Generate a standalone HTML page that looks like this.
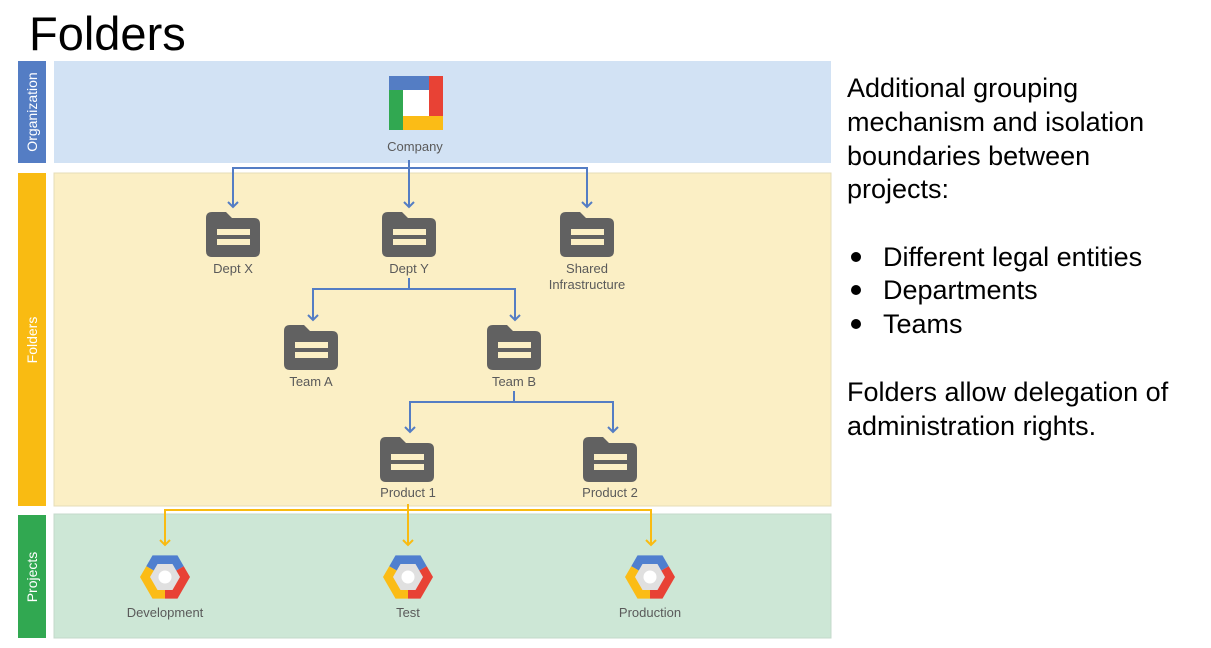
<!DOCTYPE html>
<html><head><meta charset="utf-8"><style>
body{margin:0;background:#fff;width:1211px;height:648px;overflow:hidden}
svg{display:block;font-family:"Liberation Sans",sans-serif}
</style></head><body>
<svg width="1211" height="648" viewBox="0 0 1211 648">
<defs>
<g id="fold">
<path d="M0,6 Q0,0 6,0 H20 L26,6 H48 Q54,6 54,12 V39 Q54,45 48,45 H6 Q0,45 0,39 Z" fill="#616161"/>
<rect x="11" y="17" width="33" height="6" fill="#fbefc5"/>
<rect x="11" y="27" width="33" height="6" fill="#fbefc5"/>
</g>
<g id="hex">
<polygon points="0,0 -18.75,-10.8 -12.5,-21.6 12.5,-21.6 18.75,-10.8" fill="#4f7fcf"/>
<polygon points="0,0 18.75,-10.8 25,0 12.5,21.6 0,21.6" fill="#e84235"/>
<polygon points="0,0 0,21.6 -12.5,21.6 -25,0 -18.75,-10.8" fill="#fbbc16"/>
<polygon points="-15,0 -7.5,-13 7.5,-13 15,0 7.5,13 -7.5,13" fill="#e0e0e0"/>
<circle r="6.5" fill="#fff"/>
</g>
</defs>
<text x="29" y="50" font-size="47" fill="#000">Folders</text>
<rect x="18" y="61" width="28" height="102" fill="#547dc4"/>
<rect x="54" y="61" width="777" height="102" fill="#d2e2f4"/>
<rect x="18" y="173" width="28" height="333" fill="#f9bb12"/>
<rect x="54" y="173" width="777" height="333" fill="#fbefc5" stroke="#e6dcb8"/>
<rect x="18" y="515" width="28" height="123" fill="#31a851"/>
<rect x="54" y="514" width="777" height="124" fill="#cde7d6" stroke="#c4d8cb"/>
<g fill="#fff" font-size="14" text-anchor="middle">
<text transform="translate(37,112) rotate(-90)">Organization</text>
<text transform="translate(37,340) rotate(-90)">Folders</text>
<text transform="translate(37,577) rotate(-90)">Projects</text>
</g>
<rect x="389" y="76" width="54" height="54" fill="#fff"/>
<rect x="389" y="76" width="42" height="14" fill="#547dc4"/>
<rect x="429" y="76" width="14" height="40" fill="#e84235"/>
<rect x="403" y="116" width="40" height="14" fill="#fbbc16"/>
<rect x="389" y="90" width="14" height="40" fill="#31a851"/>
<g fill="none" stroke="#547dc4" stroke-width="2">
<path d="M409,160 V207 M233,207 V168 H587 V207"/>
<path d="M409,278 V289 M313,320 V289 H515 V320"/>
<path d="M514,391 V402 M410,432 V402 H613 V432"/>
<path d="M228,202 L233,207 L238,202 M404,202 L409,207 L414,202 M582,202 L587,207 L592,202"/>
<path d="M308,315 L313,320 L318,315 M510,315 L515,320 L520,315"/>
<path d="M405,427 L410,432 L415,427 M608,427 L613,432 L618,427"/>
</g>
<g fill="none" stroke="#f9bb12" stroke-width="2">
<path d="M408,504 V545 M165,545 V510 H651 V545"/>
<path d="M160,540 L165,545 L170,540 M403,540 L408,545 L413,540 M646,540 L651,545 L656,540"/>
</g>
<use href="#fold" x="206" y="212"/>
<use href="#fold" x="382" y="212"/>
<use href="#fold" x="560" y="212"/>
<use href="#fold" x="284" y="325"/>
<use href="#fold" x="487" y="325"/>
<use href="#fold" x="380" y="437"/>
<use href="#fold" x="583" y="437"/>
<use href="#hex" x="165" y="577"/>
<use href="#hex" x="408" y="577"/>
<use href="#hex" x="650" y="577"/>
<g fill="#5a5a5a" font-size="13" text-anchor="middle">
<text x="415" y="151">Company</text>
<text x="233" y="273">Dept X</text>
<text x="409" y="273">Dept Y</text>
<text x="587" y="273">Shared</text>
<text x="587" y="289">Infrastructure</text>
<text x="311" y="386">Team A</text>
<text x="514" y="386">Team B</text>
<text x="408" y="497">Product 1</text>
<text x="610" y="497">Product 2</text>
<text x="165" y="617">Development</text>
<text x="408" y="617">Test</text>
<text x="650" y="617">Production</text>
</g>
<g fill="#000" font-size="27">
<text x="847" y="97">Additional grouping</text>
<text x="847" y="131">mechanism and isolation</text>
<text x="847" y="165">boundaries between</text>
<text x="847" y="198">projects:</text>
<circle cx="856" cy="257" r="5"/>
<circle cx="856" cy="290" r="5"/>
<circle cx="856" cy="324" r="5"/>
<text x="883" y="266">Different legal entities</text>
<text x="883" y="299">Departments</text>
<text x="883" y="333">Teams</text>
<text x="847" y="401">Folders allow delegation of</text>
<text x="847" y="435">administration rights.</text>
</g>
</svg>
</body></html>
